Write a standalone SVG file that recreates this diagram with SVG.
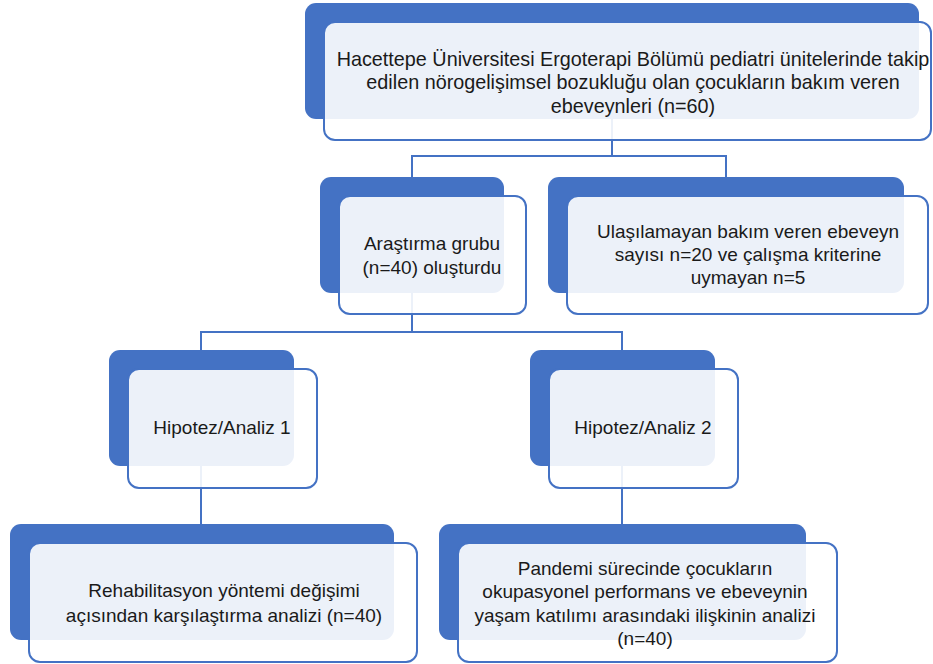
<svg xmlns="http://www.w3.org/2000/svg" width="933" height="664" viewBox="0 0 933 664">
<style>
.bg{fill:#4472C4;}
.fr{fill:#ffffff;fill-opacity:0.9;stroke:#4472C4;stroke-width:2;}
.t{font-family:"Liberation Sans",Arial,sans-serif;font-size:19px;fill:#1a1a1a;text-anchor:middle;}
.tl{font-size:19.8px;}
.c{fill:none;stroke:#4472C4;stroke-width:2;}
</style>
<rect width="933" height="664" fill="#ffffff"/>
<g id="connectors">
<path class="c" d="M612,119 V156 H412 V177"/>
<path class="c" d="M612,119 V156 H726 V177"/>
<path class="c" d="M412,293 V332 H201 V350"/>
<path class="c" d="M412,293 V332 H622 V350"/>
<path class="c" d="M201,466 V524"/>
<path class="c" d="M622,466 V524"/>
</g>
<g id="node-top">
<rect class="bg" x="305" y="3" width="614" height="116" rx="11"/>
<rect class="fr" x="324" y="22" width="607" height="118" rx="11"/>
<text class="t tl" x="633" y="66">Hacettepe Üniversitesi Ergoterapi Bölümü pediatri ünitelerinde takip</text>
<text class="t tl" x="633" y="89">edilen nörogelişimsel bozukluğu olan çocukların bakım veren</text>
<text class="t tl" x="633" y="113">ebeveynleri (n=60)</text>
</g>
<g id="node-arastirma">
<rect class="bg" x="320" y="177" width="184" height="116" rx="11"/>
<rect class="fr" x="339" y="196" width="187" height="118" rx="11"/>
<text class="t" x="432" y="250">Araştırma grubu</text>
<text class="t" x="432" y="274">(n=40) oluşturdu</text>
</g>
<g id="node-ulasilamayan">
<rect class="bg" x="548" y="177" width="356" height="116" rx="11"/>
<rect class="fr" x="567" y="196" width="361" height="118" rx="11"/>
<text class="t" x="748" y="238">Ulaşılamayan bakım veren ebeveyn</text>
<text class="t" x="748" y="261">sayısı n=20 ve çalışma kriterine</text>
<text class="t" x="748" y="284">uymayan n=5</text>
</g>
<g id="node-hipotez1">
<rect class="bg" x="109" y="350" width="185" height="116" rx="11"/>
<rect class="fr" x="128" y="369" width="189" height="119" rx="11"/>
<text class="t" x="222" y="434">Hipotez/Analiz 1</text>
</g>
<g id="node-hipotez2">
<rect class="bg" x="530" y="350" width="185" height="116" rx="11"/>
<rect class="fr" x="549" y="369" width="189" height="119" rx="11"/>
<text class="t" x="643" y="434">Hipotez/Analiz 2</text>
</g>
<g id="node-analiz1">
<rect class="bg" x="10" y="524" width="384" height="116" rx="11"/>
<rect class="fr" x="29" y="543" width="388" height="119" rx="11"/>
<text class="t" x="224" y="597">Rehabilitasyon yöntemi değişimi</text>
<text class="t" x="224" y="622">açısından karşılaştırma analizi (n=40)</text>
</g>
<g id="node-analiz2">
<rect class="bg" x="439" y="524" width="367" height="116" rx="11"/>
<rect class="fr" x="458" y="543" width="379" height="119" rx="11"/>
<text class="t" x="645" y="575">Pandemi sürecinde çocukların</text>
<text class="t" x="645" y="598">okupasyonel performans ve ebeveynin</text>
<text class="t" x="645" y="622">yaşam katılımı arasındaki ilişkinin analizi</text>
<text class="t" x="645" y="645">(n=40)</text>
</g>
</svg>
